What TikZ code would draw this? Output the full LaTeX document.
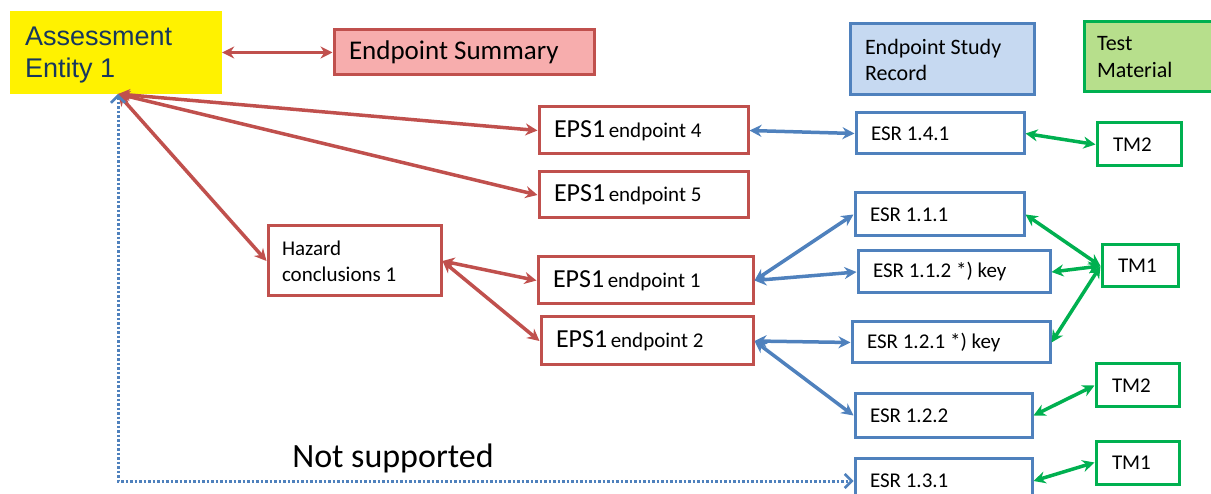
\documentclass[tikz,border=0pt]{standalone}
\usepackage{fontspec}
\setmainfont{Carlito}
\newfontfamily\arialf{Liberation Sans}
\usetikzlibrary{arrows.meta}
\definecolor{cred}{HTML}{C0504D}
\definecolor{cpink}{HTML}{F7ADAD}
\definecolor{cblue}{HTML}{4F81BD}
\definecolor{cbluefill}{HTML}{C6D9F1}
\definecolor{cgreen}{HTML}{00B050}
\definecolor{cgreenfill}{HTML}{B7DF8C}
\definecolor{cnavy}{HTML}{17375E}
\tikzset{
  box/.style={rectangle, line width=3pt, inner xsep=15pt, inner ysep=0pt, align=flush left,
    font=\fontsize{21}{26}\selectfont},
  redbox/.style={box, draw=cred, fill=white},
  bluebox/.style={box, draw=cblue, fill=white},
  greenbox/.style={box, draw=cgreen, fill=white, inner xsep=16pt},
  redarr/.style={draw=cred, line width=3.5pt, {Stealth[length=12pt,width=12pt]}-{Stealth[length=12pt,width=12pt]}},
  bluearr/.style={draw=cblue, line width=3.5pt, {Stealth[length=12pt,width=12pt]}-{Stealth[length=12pt,width=12pt]}},
  greenarr/.style={draw=cgreen, line width=3.5pt, {Stealth[length=12pt,width=12pt]}-{Stealth[length=12pt,width=12pt]}},
  dotarr/.style={draw=cblue, line width=3pt, dash pattern=on 2.5pt off 2pt,
    {Straight Barb[length=7pt,width=14pt,line width=2.5pt]}-{Straight Barb[length=7pt,width=14pt,line width=2.5pt]}},
  eps/.style={redbox, text width=179pt, minimum height=47pt},
}
\newcommand{\epsl}[1]{{\fontsize{26}{30}\selectfont EPS1}\,endpoint #1}
\begin{document}
\begin{tikzpicture}[x=1pt,y=-1pt]
\useasboundingbox (0,0) rectangle (1211,494);
% headers
\node[rectangle, fill=yellow, inner xsep=15pt, text width=182pt, minimum height=83pt, align=flush left,
  font=\arialf\fontsize{27}{32}\selectfont, text=cnavy] (AE) at (116,52.5) {\vphantom{Ag}\\[-27pt]Assessment\\Entity 1};
\node[redbox, fill=cpink, text width=230pt, minimum height=45pt, font=\fontsize{27}{32}\selectfont] (ES) at (464,52.5) {Endpoint Summary};
\node[bluebox, fill=cbluefill, text width=154pt, minimum height=71pt, font=\fontsize{22}{26}\selectfont] (ESRH) at (942,59.5) {Endpoint Study\\Record};
\node[box, draw=cgreen, fill=cgreenfill, inner xsep=13pt, text width=120pt, minimum height=70pt, font=\fontsize{22}{27}\selectfont] (TMH) at (1157,57) {Test\\Material};
% red boxes
\node[eps] (EPS4) at (643.5,130.5) {\epsl{4}};
\node[eps, minimum height=46pt] (EPS5) at (643.5,195) {\epsl{5}};
\node[redbox, inner xsep=14pt, text width=145pt, minimum height=70pt] (HZ) at (354.5,261) {Hazard\\conclusions 1};
\node[eps, text width=185pt] (EPS1) at (645.5,280.5) {\epsl{1}};
\node[eps, text width=182pt, minimum height=48pt] (EPS2) at (647,341) {\epsl{2}};
% blue boxes
\node[bluebox, text width=138pt, minimum height=41pt] (ESR141) at (940,133.5) {ESR 1.4.1};
\node[bluebox, text width=139pt, minimum height=43pt] (ESR111) at (939.5,214.5) {ESR 1.1.1};
\node[bluebox, text width=162pt, minimum height=42pt] (ESR112) at (954,272) {ESR 1.1.2 *) key};
\node[bluebox, text width=168pt, minimum height=41pt] (ESR121) at (951,342.5) {ESR 1.2.1 *) key};
\node[bluebox, text width=147pt, minimum height=43pt] (ESR122) at (943.5,415.5) {ESR 1.2.2};
\node[bluebox, text width=147pt, minimum height=46pt] (ESR131) at (943.5,481) {ESR 1.3.1};
% green boxes
\node[greenbox, text width=52pt, minimum height=43pt] (TM2a) at (1139,144.5) {TM2};
\node[greenbox, text width=44pt, minimum height=42pt] (TM1a) at (1140,266) {TM1};
\node[greenbox, text width=51pt, minimum height=43pt] (TM2b) at (1137.5,385.5) {TM2};
\node[greenbox, text width=51pt, minimum height=43pt] (TM1b) at (1137.5,462.5) {TM1};
% label
\node[font=\fontsize{34}{38}\selectfont, inner sep=0pt] (NS) at (393,458) {Not supported};
% red connectors
\coordinate (AEs) at (118,94);
\draw[redarr] (AE.east |- ES.west) -- (ES.west);
\draw[redarr] (AEs) -- (EPS4.west);
\draw[redarr] (AEs) -- (EPS5.west);
\draw[redarr] (AEs) -- (HZ.west);
\draw[redarr] (HZ.east) -- (EPS1.west);
\draw[redarr] (HZ.east) -- (EPS2.west);
% blue connectors
\draw[bluearr] (EPS4.east) -- (ESR141.west);
\draw[bluearr] (EPS1.east) -- (ESR111.west);
\draw[bluearr] (EPS1.east) -- (ESR112.west);
\draw[bluearr] (EPS2.east) -- (ESR121.west);
\draw[bluearr] (EPS2.east) -- (ESR122.west);
\draw[dotarr] (AEs) |- (ESR131.west);
% green connectors
\draw[greenarr] (ESR141.east) -- (TM2a.west);
\draw[greenarr] (TM1a.west) -- (ESR111.east);
\draw[greenarr] (TM1a.west) -- (ESR112.east);
\draw[greenarr] (TM1a.west) -- (ESR121.east);
\draw[greenarr] (ESR122.east) -- (TM2b.west);
\draw[greenarr] (ESR131.east) -- (TM1b.west);
\end{tikzpicture}
\end{document}
